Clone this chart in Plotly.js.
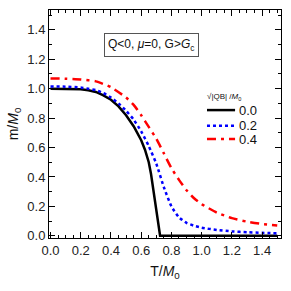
<!DOCTYPE html>
<html><head><meta charset="utf-8">
<script src="https://cdn.plot.ly/plotly-3.0.1.min.js"></script>
<style>html,body{margin:0;padding:0;background:#fff}#c{width:291px;height:291px}</style>
</head><body><div id="c"></div>
<script>
const T_black = [0,0.05,0.1,0.15,0.2,0.25,0.3,0.35,0.4,0.45,0.5,0.55,0.6,0.625,0.65,0.665,0.675,0.69,0.7,0.71,0.72,0.725,0.8,1.0,1.2,1.5];
const m_black = [1.0,1.0,1.0,0.999,0.997,0.99,0.978,0.955,0.925,0.88,0.82,0.745,0.65,0.585,0.5,0.42,0.35,0.25,0.18,0.11,0.04,0.0,0.0,0.0,0.0,0.0];
const T_blue = [0,0.1,0.2,0.25,0.3,0.35,0.4,0.45,0.5,0.55,0.6,0.65,0.7,0.75,0.8,0.85,0.9,0.95,1.0,1.1,1.2,1.3,1.4,1.5];
const m_blue = [1.015,1.014,1.008,1.0,0.99,0.97,0.94,0.9,0.85,0.79,0.71,0.61,0.49,0.33,0.2,0.125,0.088,0.068,0.055,0.04,0.03,0.024,0.02,0.017];
const T_red = [0,0.1,0.2,0.3,0.4,0.5,0.55,0.6,0.65,0.7,0.75,0.8,0.85,0.9,0.95,1.0,1.1,1.2,1.3,1.4,1.5];
const m_red = [1.07,1.068,1.063,1.05,1.01,0.94,0.89,0.82,0.74,0.66,0.56,0.46,0.38,0.31,0.255,0.215,0.158,0.12,0.096,0.08,0.07];
const seriesNames = ['0.0','0.2','0.4'];
const xTicks = [0,0.2,0.4,0.6,0.8,1.0,1.2,1.4];
const yTicks = [0,0.2,0.4,0.6,0.8,1.0,1.2,1.4];

const colors = ['#000000','#0000ff','#ff0000'];
const dashes = ['solid','dot','9px,5px,3px,5px'];
const traces = [
  {x:T_black,y:m_black,name:seriesNames[0],mode:'lines',line:{color:colors[0],width:2.5,dash:dashes[0]}},
  {x:T_blue,y:m_blue,name:seriesNames[1],mode:'lines',line:{color:colors[1],width:2.5,dash:dashes[1],shape:'spline',smoothing:0.5}},
  {x:T_red,y:m_red,name:seriesNames[2],mode:'lines',line:{color:colors[2],width:2.5,dash:dashes[2],shape:'spline',smoothing:0.5}}
];
const F = 'Liberation Sans, Arial, sans-serif';
const axisCommon = {
  showline:true, linecolor:'#000', linewidth:1, mirror:'ticks',
  ticks:'inside', ticklen:6, tickcolor:'#000', tickwidth:1,
  showgrid:false, zeroline:false,
  tickfont:{family:F,size:13,color:'#222'},
  tickformat:'.1f'
};
// manual legend (decoration in paper coords)
const legX0 = 0.681, legX1 = 0.802, legTextX = 0.81;
const legY = [0.561,0.4925,0.434];
const shapes = seriesNames.map((n,i)=>({type:'line',xref:'paper',yref:'paper',x0:legX0,x1:legX1,y0:legY[i],y1:legY[i],
  line:{color:colors[i],width:2.5,dash:dashes[i]}}));
const annotations = seriesNames.map((n,i)=>({xref:'paper',yref:'paper',x:legTextX,y:legY[i],xanchor:'left',yanchor:'middle',
  text:n,showarrow:false,font:{family:F,size:13,color:'#111'}}));
annotations.push({xref:'paper',yref:'paper',x:0.672,y:0.618,xanchor:'left',yanchor:'middle',
  text:'√|QB| /<i>M</i><sub>0</sub>',showarrow:false,font:{family:F,size:8,color:'#111'}});
annotations.push({xref:'paper',yref:'paper',x:0.44,y:0.845,xanchor:'center',yanchor:'middle',
    text:'Q&lt;0, <i>μ</i>=0, G&gt;<i>G</i><sub>c</sub>',showarrow:false,
    font:{family:F,size:12,color:'#111'},
    bordercolor:'#555',borderwidth:1,borderpad:3,bgcolor:'#fff'});
const layout = {
  width:291,height:291,
  margin:{l:49,r:10,t:10,b:53},
  paper_bgcolor:'#fff',plot_bgcolor:'#fff',
  showlegend:false,
  xaxis:Object.assign({},axisCommon,{range:[-0.01,1.525],tickvals:xTicks,
    minor:{dtick:0.05,ticks:'inside',ticklen:3,tickcolor:'#000'},
    title:{text:'T/<i>M</i><sub>0</sub>',font:{family:F,size:14,color:'#111'},standoff:9}}),
  yaxis:Object.assign({},axisCommon,{range:[-0.015,1.535],tickvals:yTicks,
    minor:{dtick:0.1,ticks:'inside',ticklen:3,tickcolor:'#000'},
    title:{text:'m/<i>M</i><sub>0</sub>',font:{family:F,size:14,color:'#111'},standoff:5}}),
  shapes:shapes,
  annotations:annotations
};
Plotly.newPlot('c',traces,layout,{displayModeBar:false,staticPlot:true});
</script></body></html>
